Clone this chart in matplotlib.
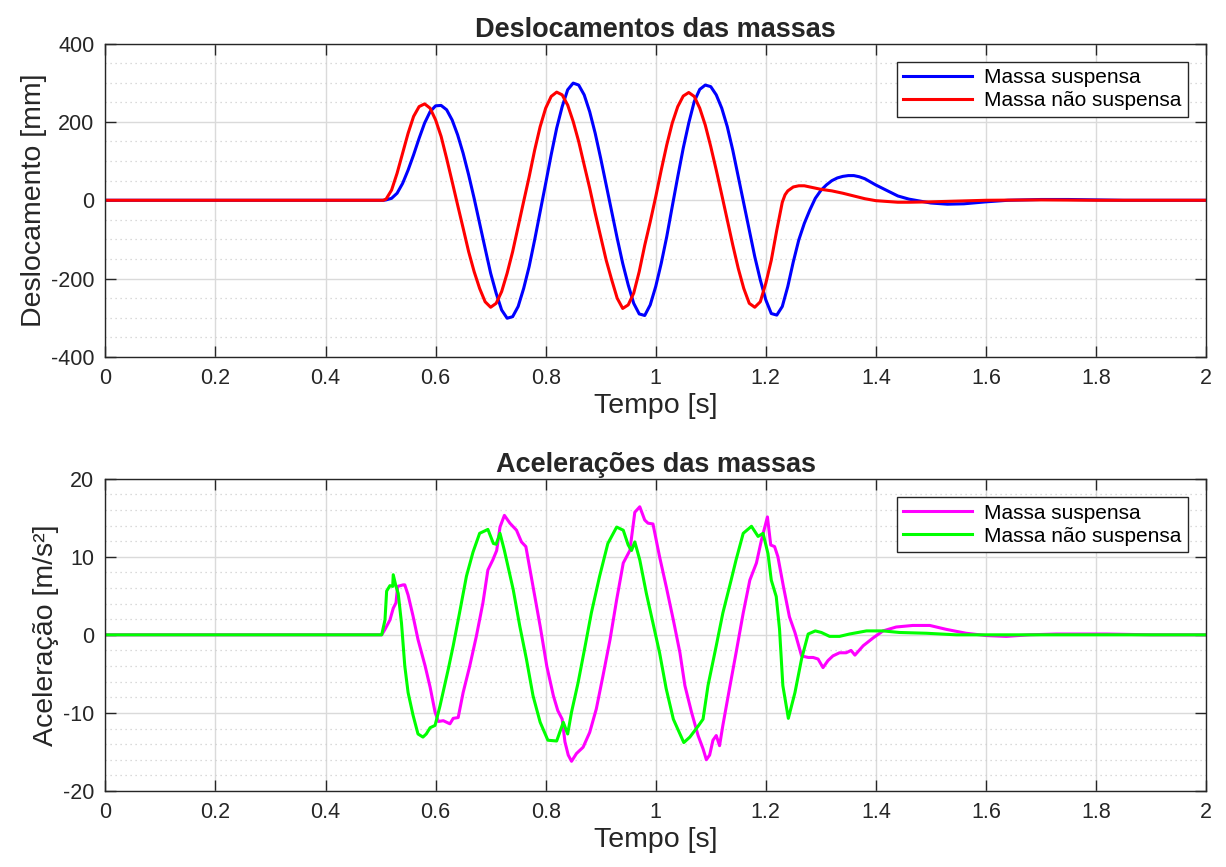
import numpy as np
import matplotlib
matplotlib.use('Agg')
import matplotlib.pyplot as plt
from matplotlib.ticker import MultipleLocator

plt.rcParams['font.family'] = ['Liberation Sans', 'DejaVu Sans']
plt.rcParams['axes.unicode_minus'] = False

# deslocamentos [mm] - massa suspensa (azul)
t_sus = [0, 0.505, 0.51, 0.52, 0.53, 0.54, 0.55, 0.56, 0.57, 0.58, 0.59, 0.60, 0.61, 0.62, 0.63, 0.64, 0.65,
         0.66, 0.67, 0.68, 0.69, 0.70, 0.71, 0.72, 0.73, 0.74, 0.75, 0.76, 0.77, 0.78, 0.79, 0.80, 0.81, 0.82,
         0.83, 0.84, 0.85, 0.86, 0.87, 0.88, 0.89, 0.90, 0.91, 0.92, 0.93, 0.94, 0.95, 0.96, 0.97, 0.98, 0.99,
         1.00, 1.01, 1.02, 1.03, 1.04, 1.05, 1.06, 1.07, 1.08, 1.09, 1.10, 1.11, 1.12, 1.13, 1.14, 1.15, 1.16,
         1.17, 1.18, 1.19, 1.20, 1.21, 1.22, 1.23, 1.24, 1.25, 1.26, 1.27, 1.28, 1.29, 1.30, 1.31, 1.32, 1.33,
         1.34, 1.35, 1.36, 1.37, 1.38, 1.40, 1.42, 1.44, 1.46, 1.48, 1.50, 1.53, 1.56, 1.60, 1.64, 1.70, 1.75,
         1.80, 1.85, 2.0]
d_sus = [0, 0, 1, 5, 18, 43, 77, 116, 158, 197, 226, 241, 242, 231, 205, 167, 120,
         65, 5, -59, -123, -186, -237, -280, -301, -297, -271, -225, -169, -101, -29, 43, 116, 184,
         239, 282, 299, 294, 269, 226, 171, 107, 39, -29, -97, -161, -216, -263, -290, -294, -267,
         -220, -161, -93, -16, 60, 133, 197, 252, 283, 294, 290, 269, 235, 188, 128, 60, -8,
         -76, -144, -203, -254, -289, -293, -271, -220, -157, -101, -59, -25, 5, 25, 39, 50, 57,
         61, 63, 63, 60, 55, 39, 25, 11, 3, -2, -7, -10, -9, -4, 0, 2, 2,
         1, 0, 0]

# deslocamentos [mm] - massa nao suspensa (vermelho)
t_uns = [0, 0.505, 0.51, 0.52, 0.53, 0.54, 0.55, 0.56, 0.57, 0.58, 0.59, 0.60, 0.61, 0.62, 0.63, 0.64, 0.65,
         0.66, 0.67, 0.68, 0.69, 0.70, 0.71, 0.72, 0.73, 0.74, 0.75, 0.76, 0.77, 0.78, 0.79, 0.80, 0.81, 0.82,
         0.83, 0.84, 0.85, 0.86, 0.87, 0.88, 0.89, 0.90, 0.91, 0.92, 0.93, 0.94, 0.95, 0.96, 0.97, 0.98, 0.99,
         1.00, 1.01, 1.02, 1.03, 1.04, 1.05, 1.06, 1.07, 1.08, 1.09, 1.10, 1.11, 1.12, 1.13, 1.14, 1.15, 1.16,
         1.17, 1.18, 1.19, 1.20, 1.21, 1.22, 1.23, 1.235, 1.24, 1.25, 1.26, 1.27, 1.28, 1.29, 1.30, 1.32, 1.34,
         1.36, 1.38, 1.40, 1.42, 1.44, 1.46, 1.50, 1.55, 1.60, 1.70, 1.80, 2.0]
d_uns = [0, 0, 3, 26, 69, 120, 171, 214, 239, 246, 235, 205, 163, 107, 48, -12, -71,
         -131, -182, -225, -259, -273, -263, -233, -186, -131, -67, -3, 60, 128, 188, 235, 265, 276,
         269, 243, 201, 150, 90, 31, -33, -93, -153, -203, -250, -276, -267, -237, -182, -115, -55,
         9, 77, 141, 197, 239, 266, 275, 265, 235, 192, 137, 77, 14, -50, -114, -174, -225,
         -263, -273, -259, -212, -153, -76, -5, 14, 24, 34, 37, 37, 34, 31, 28, 24, 18,
         11, 4, -1, -3, -5, -5, -4, -2, 0, 1, 0, 0]

# aceleracoes [m/s2] - massa suspensa (magenta)
ta_sus = [0, 0.502, 0.508, 0.517, 0.523, 0.528, 0.531, 0.541, 0.544, 0.550, 0.559, 0.568, 0.581, 0.590,
          0.599, 0.605, 0.614, 0.620, 0.626, 0.632, 0.641, 0.650, 0.662, 0.674, 0.686, 0.695, 0.704, 0.711,
          0.717, 0.725, 0.735, 0.747, 0.756, 0.764, 0.777, 0.790, 0.802, 0.814, 0.822, 0.830, 0.835, 0.841,
          0.847, 0.856, 0.868, 0.880, 0.892, 0.904, 0.917, 0.929, 0.941, 0.953, 0.962, 0.971, 0.980, 0.986,
          0.995, 1.007, 1.019, 1.032, 1.044, 1.053, 1.065, 1.077, 1.086, 1.092, 1.098, 1.104, 1.110, 1.116,
          1.122, 1.134, 1.146, 1.159, 1.171, 1.183, 1.192, 1.203, 1.209, 1.216, 1.222, 1.232, 1.243, 1.253,
          1.265, 1.277, 1.286, 1.295, 1.304, 1.313, 1.322, 1.334, 1.346, 1.355, 1.362, 1.377, 1.395, 1.413,
          1.437, 1.467, 1.498, 1.528, 1.564, 1.601, 1.637, 1.679, 1.728, 1.819, 1.9, 2.0]
a_sus = [0, 0, 0.7, 1.9, 3.4, 4.1, 6.2, 6.4, 6.4, 5.1, 2.4, -0.6, -4.0, -6.7,
         -9.9, -11.1, -11.0, -11.2, -11.4, -10.7, -10.6, -7.4, -4.0, -0.2, 4.1, 8.3, 9.6, 10.8,
         13.8, 15.3, 14.3, 13.4, 11.9, 11.3, 6.2, 1.1, -4.0, -7.8, -9.7, -10.8, -13.7, -15.4,
         -16.2, -15.2, -14.4, -12.5, -9.5, -5.3, -0.6, 4.5, 9.2, 10.8, 15.7, 16.4, 14.7, 14.3,
         14.2, 10.0, 6.2, 1.9, -2.3, -6.5, -9.9, -12.9, -14.6, -16.0, -15.4, -13.5, -12.9, -14.2,
         -11.6, -6.9, -2.3, 2.8, 7.0, 9.2, 12.1, 15.1, 11.5, 11.3, 10.0, 6.2, 2.3, 0.3,
         -2.7, -2.9, -2.9, -3.1, -4.2, -3.3, -2.7, -2.3, -2.3, -2.0, -2.6, -1.4, -0.4, 0.5,
         1.0, 1.2, 1.2, 0.7, 0.2, -0.1, -0.2, 0, 0.1, 0.1, 0, 0]

# aceleracoes [m/s2] - massa nao suspensa (verde)
ta_uns = [0, 0.502, 0.508, 0.511, 0.517, 0.522, 0.523, 0.528, 0.532, 0.538, 0.544, 0.550, 0.559, 0.568,
          0.577, 0.583, 0.590, 0.599, 0.608, 0.623, 0.632, 0.644, 0.656, 0.668, 0.680, 0.695, 0.705, 0.710,
          0.717, 0.725, 0.741, 0.753, 0.765, 0.777, 0.790, 0.804, 0.820, 0.832, 0.840, 0.847, 0.859, 0.871,
          0.883, 0.898, 0.913, 0.929, 0.941, 0.950, 0.956, 0.962, 0.971, 0.983, 0.995, 1.007, 1.019, 1.032,
          1.051, 1.062, 1.077, 1.086, 1.095, 1.110, 1.122, 1.137, 1.146, 1.159, 1.174, 1.186, 1.195, 1.204,
          1.210, 1.219, 1.225, 1.231, 1.241, 1.253, 1.265, 1.277, 1.290, 1.301, 1.316, 1.334, 1.352, 1.383,
          1.413, 1.443, 1.492, 1.546, 2.0]
a_uns = [0, 0, 1.9, 5.6, 6.3, 6.2, 7.7, 6.2, 5.3, 1.5, -4.0, -7.4, -10.3, -12.7,
         -13.1, -12.7, -11.9, -11.6, -9.1, -4.4, -1.4, 3.0, 7.5, 10.6, 13.0, 13.5, 11.7, 11.6,
         13.0, 10.8, 5.8, 1.1, -3.1, -7.8, -11.2, -13.5, -13.6, -11.2, -12.7, -9.9, -6.1, -1.7,
         2.8, 7.5, 11.7, 13.8, 13.4, 11.5, 10.8, 11.9, 9.6, 5.3, 1.5, -2.3, -6.9, -10.8,
         -13.8, -13.1, -11.7, -10.8, -6.5, -1.4, 2.8, 7.0, 9.6, 13.0, 13.9, 12.6, 13.0, 10.4,
         7.0, 4.9, 0.7, -6.5, -10.7, -7.4, -3.1, 0.1, 0.5, 0.3, -0.2, -0.2, 0.1, 0.5,
         0.5, 0.3, 0.2, 0, 0]

xticks = [0, 0.2, 0.4, 0.6, 0.8, 1, 1.2, 1.4, 1.6, 1.8, 2]
xticklabels = ['0', '0.2', '0.4', '0.6', '0.8', '1', '1.2', '1.4', '1.6', '1.8', '2']

txt = '#262626'
fig = plt.figure(figsize=(12.26, 8.67), dpi=100)
ax1 = fig.add_axes([0.086, 0.5882, 0.8977, 0.3616])
ax2 = fig.add_axes([0.086, 0.0877, 0.8977, 0.3602])


def style(ax, ylim, ymajor, yminor):
    ax.set_xlim(0, 2)
    ax.set_ylim(*ylim)
    ax.set_xticks(xticks)
    ax.set_xticklabels(xticklabels)
    ax.yaxis.set_major_locator(MultipleLocator(ymajor))
    ax.yaxis.set_minor_locator(MultipleLocator(yminor))
    ax.grid(True, which='major', color='#dadada', linewidth=1)
    ax.grid(True, which='minor', axis='y', color='#cfcfcf', linestyle=(0, (1, 3)), linewidth=0.9)
    ax.set_axisbelow(True)
    ax.tick_params(which='major', direction='in', length=8, width=1, colors=txt,
                   top=True, right=True, labelsize=15.5, pad=8)
    ax.tick_params(which='minor', length=0)
    for s in ax.spines.values():
        s.set_color(txt)
        s.set_linewidth(1)


ax1.plot(t_sus, d_sus, color='#0000ff', linewidth=2.2, label='Massa suspensa')
ax1.plot(t_uns, d_uns, color='#ff0000', linewidth=2.2, label='Massa não suspensa')
style(ax1, (-400, 400), 200, 50)
ax1.set_title('Deslocamentos das massas', fontsize=19.5, fontweight='bold', color=txt, pad=5)
ax1.set_xlabel('Tempo [s]', fontsize=20.5, color=txt, labelpad=3)
ax1.set_ylabel('Deslocamento [mm]', fontsize=20.5, color=txt, labelpad=3)
leg1 = ax1.legend(loc='upper right', bbox_to_anchor=(0.9837, 0.941), borderaxespad=0, fontsize=15,
                  handlelength=3.3, fancybox=False, edgecolor=txt, framealpha=1,
                  borderpad=0.3, labelspacing=0.2, handletextpad=0.6)
leg1.get_frame().set_linewidth(1)

ax2.plot(ta_sus, a_sus, color='#ff00ff', linewidth=2.2, label='Massa suspensa')
ax2.plot(ta_uns, a_uns, color='#00ff00', linewidth=2.2, label='Massa não suspensa')
style(ax2, (-20, 20), 10, 2)
ax2.set_title('Acelerações das massas', fontsize=19.5, fontweight='bold', color=txt, pad=5)
ax2.set_xlabel('Tempo [s]', fontsize=20.5, color=txt, labelpad=3)
ax2.set_ylabel('Aceleração [m/s²]', fontsize=20.5, color=txt, labelpad=3)
leg2 = ax2.legend(loc='upper right', bbox_to_anchor=(0.9837, 0.9404), borderaxespad=0, fontsize=15,
                  handlelength=3.3, fancybox=False, edgecolor=txt, framealpha=1,
                  borderpad=0.3, labelspacing=0.2, handletextpad=0.6)
leg2.get_frame().set_linewidth(1)

fig.savefig('out.png', dpi=100)
